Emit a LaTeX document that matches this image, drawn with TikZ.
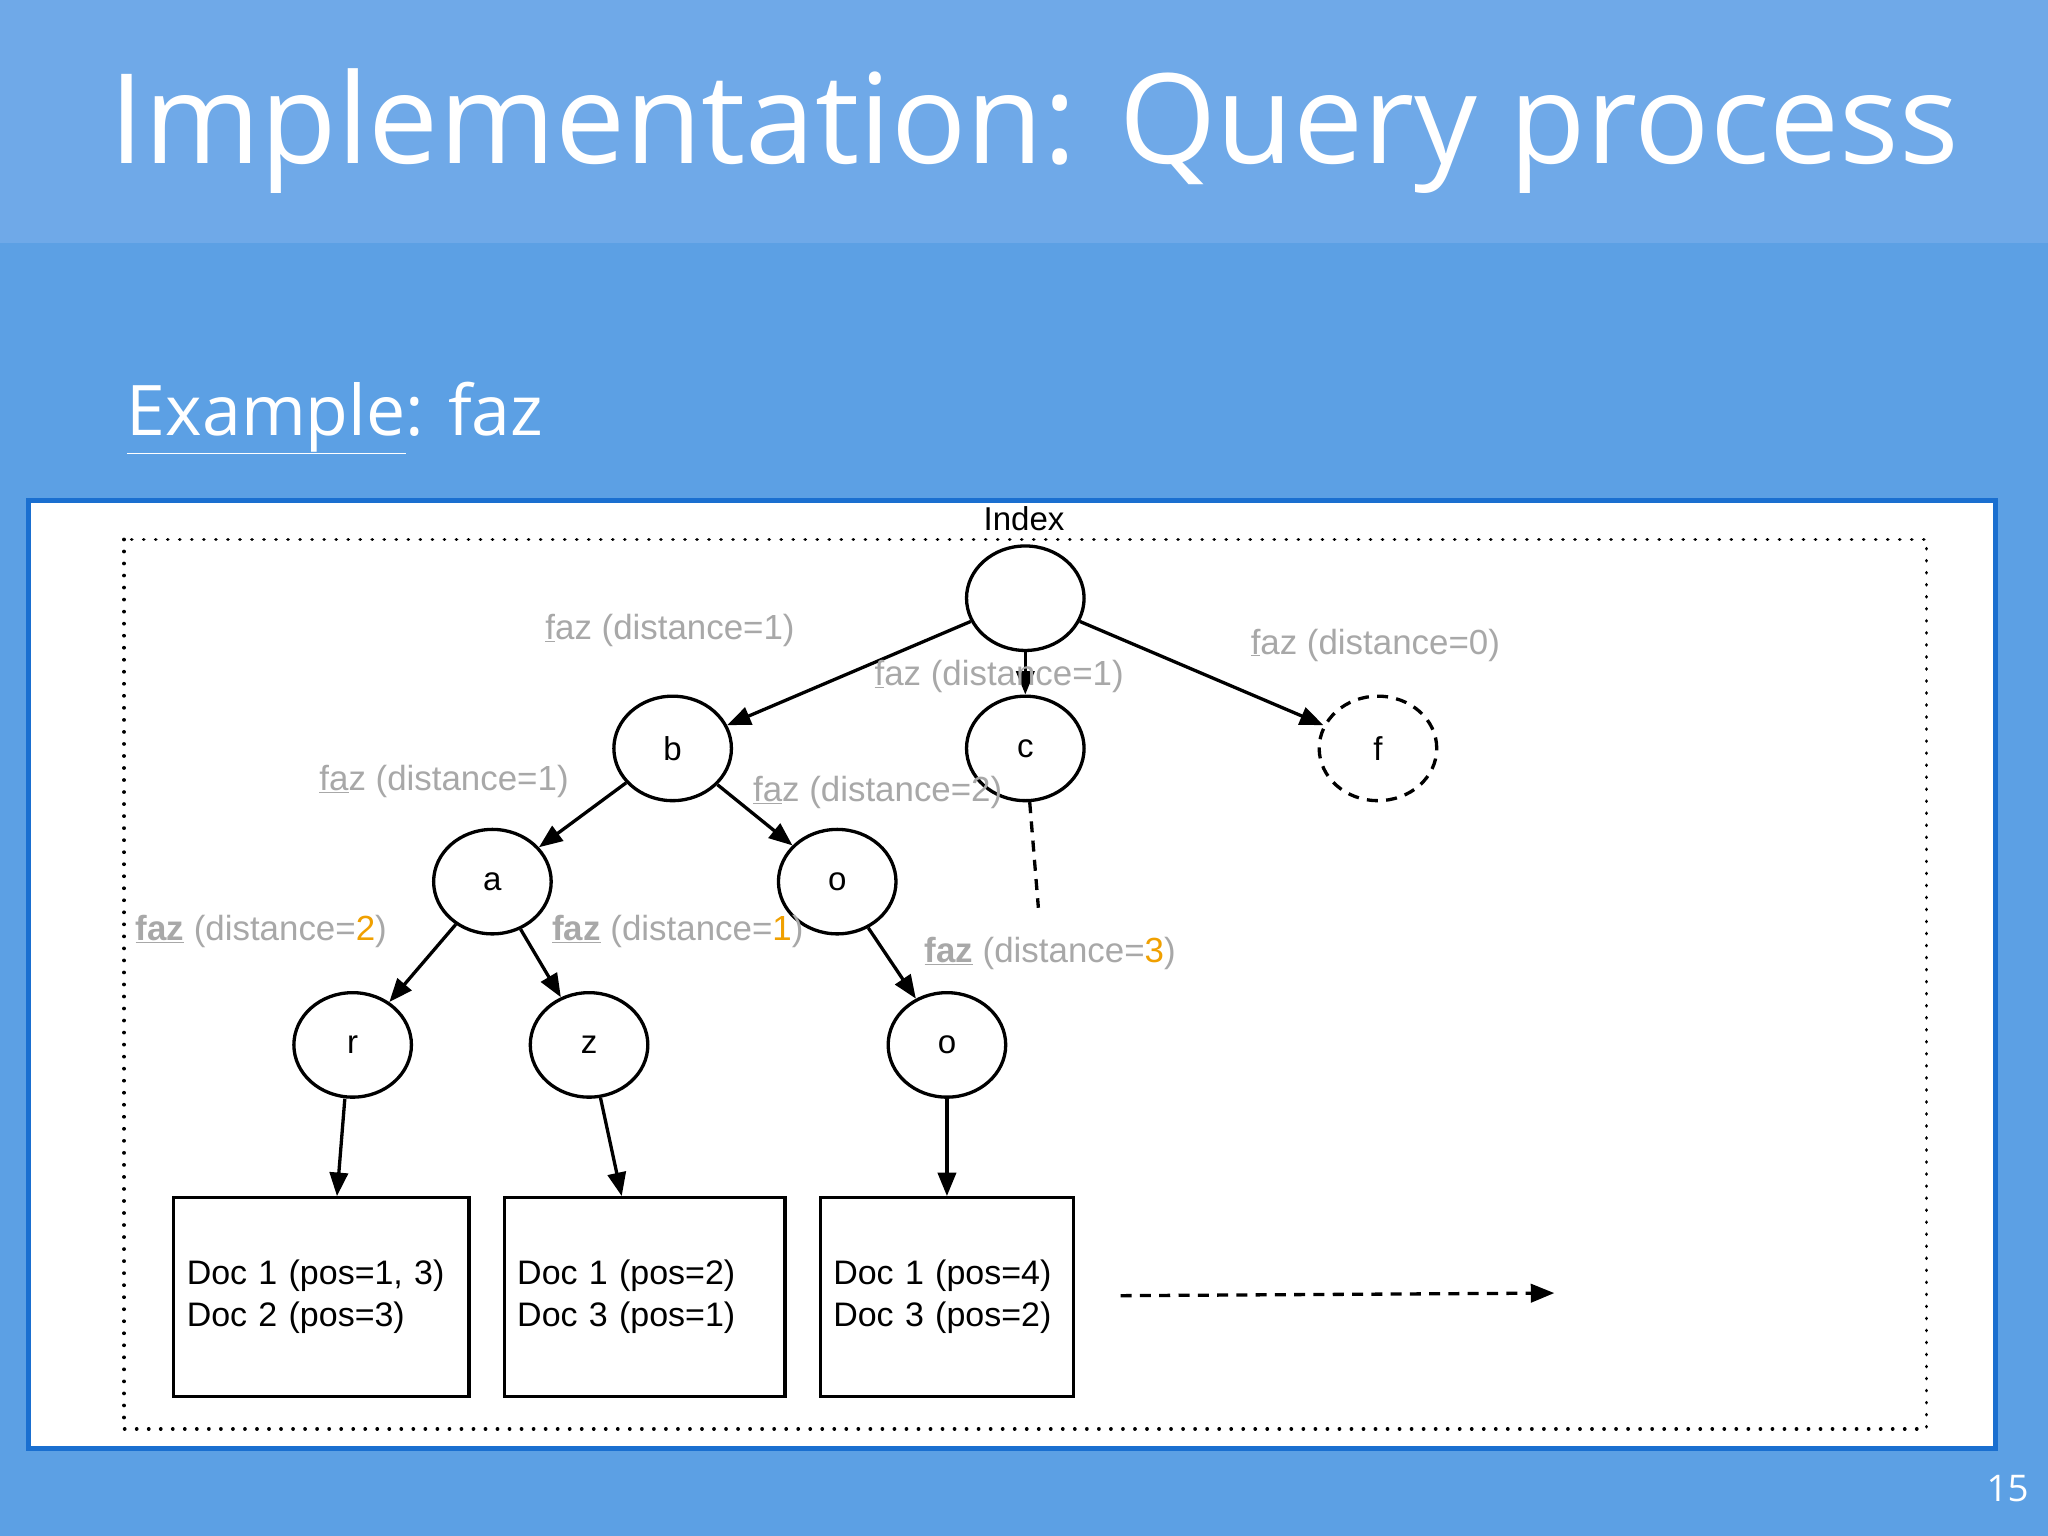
\documentclass[tikz,border=0pt]{standalone}
\usepackage{fontspec}
\setmainfont{Liberation Sans}
\newfontfamily\ttl{Open Sans}
\usetikzlibrary{shapes.geometric,arrows.meta}
\definecolor{bgA}{HTML}{5CA0E4}
\definecolor{bgT}{HTML}{6FA9E8}
\definecolor{bord}{HTML}{1A6FD0}
\definecolor{lab}{HTML}{A8A8A8}
\definecolor{org}{HTML}{F0A000}
\begin{document}
\begin{tikzpicture}[x=0.5mm,y=-0.5mm,
  nd/.style={ellipse,draw,line width=3.6pt,minimum width=45mm,minimum height=40mm,inner sep=0pt,font=\fontsize{36}{40}\selectfont},
  box/.style={draw,line width=3.6pt,inner sep=0pt,font=\fontsize{37}{46}\selectfont,align=left},
  ar/.style={line width=3.6pt,-{Triangle[length=9mm,width=7mm]}},
  lb/.style={text=lab,font=\fontsize{38}{42}\selectfont,inner sep=0pt}]
\useasboundingbox (0,0) rectangle (1568,1176);
\fill[bgA] (0,0) rectangle (1568,1176);
\fill[bgT] (0,0) rectangle (1568,186);
\fill[white,opacity=0.12] (1160,1176) arc[start angle=180,end angle=120,radius=520] -- (1568,1176) -- cycle;
\node[text=white,font=\ttl\fontsize{136}{150}\selectfont,anchor=west,inner sep=0pt] (title) at (84,100) {Implementation: Query process};
\node[text=white,font=\ttl\fontsize{76}{84}\selectfont,anchor=west,inner sep=0pt] (ex) at (97,320) {\underline{Example}: faz};
\node[text=white,font=\ttl\fontsize{40}{44}\selectfont,inner sep=0pt] (pg) at (1537,1140) {15};
\draw[fill=white,draw=bord,line width=5pt] (22,383) rectangle (1528,1109);
\draw[line width=4pt,line cap=round,dash pattern=on 0.1pt off 13pt] (95,413) rectangle (1475,1094);
\node[font=\fontsize{36}{40}\selectfont,inner sep=0pt] (idx) at (784,397) {Index};
\node[nd] (root) at (785,458) {};
\node[nd] (b) at (515,573) {b};
\node[nd] (c) at (785,573) {c};
\node[nd,dash pattern=on 12pt off 9pt] (f) at (1055,573) {f};
\node[nd] (a) at (377,675) {a};
\node[nd] (o1) at (641,675) {o};
\node[nd] (r) at (270,800) {r};
\node[nd] (z) at (451,800) {z};
\node[nd] (o2) at (725,800) {o};
\node[box,minimum width=113mm,minimum height=76mm,text width=103mm] (d1) at (246,993) {Doc 1 (pos=1, 3)\\Doc 2 (pos=3)};
\node[box,minimum width=107.5mm,minimum height=76mm,text width=97.5mm] (d2) at (493.5,993) {Doc 1 (pos=2)\\Doc 3 (pos=1)};
\node[box,minimum width=97mm,minimum height=76mm,text width=87mm] (d3) at (725,993) {Doc 1 (pos=4)\\Doc 3 (pos=2)};
\coordinate (cd) at (795,695);
\coordinate (ds) at (858,992);
\coordinate (de) at (1190,990);
\draw[ar] (root) -- (b);
\draw[ar] (root) -- (c);
\draw[ar] (root) -- (f);
\draw[ar] (b) -- (a);
\draw[ar] (b) -- (o1);
\draw[ar] (a) -- (r);
\draw[ar] (a) -- (z);
\draw[ar] (o1) -- (o2);
\draw[ar] (r.south) ++(-6,0) -- (d1.north -| 258,0);
\draw[ar] (z) -- (d2.north -| 476,0);
\draw[ar] (o2) -- (d3);
\draw[line width=3.6pt,dash pattern=on 12pt off 9pt] (c) -- (cd);
\draw[ar,dash pattern=on 12pt off 9pt] (ds) -- (de);
\node[lb] (l1) at (513,483) {\underline{f}az (distance=1)};
\node[lb] (l2) at (765,518) {\underline{f}az (distance=1)};
\node[lb] (l3) at (1053,494) {\underline{f}az (distance=0)};
\node[lb] (l4) at (340,598) {\underline{fa}z (distance=1)};
\node[lb] (l5) at (672,607) {\underline{fa}z (distance=2)};
\node[lb] (l6) at (200,713) {\underline{\textbf{faz}} (distance=\textcolor{org}{2})};
\node[lb] (l7) at (519,713) {\underline{\textbf{faz}} (distance=\textcolor{org}{1})};
\node[lb] (l8) at (804,730) {\underline{\textbf{faz}} (distance=\textcolor{org}{3})};
\end{tikzpicture}
\end{document}
